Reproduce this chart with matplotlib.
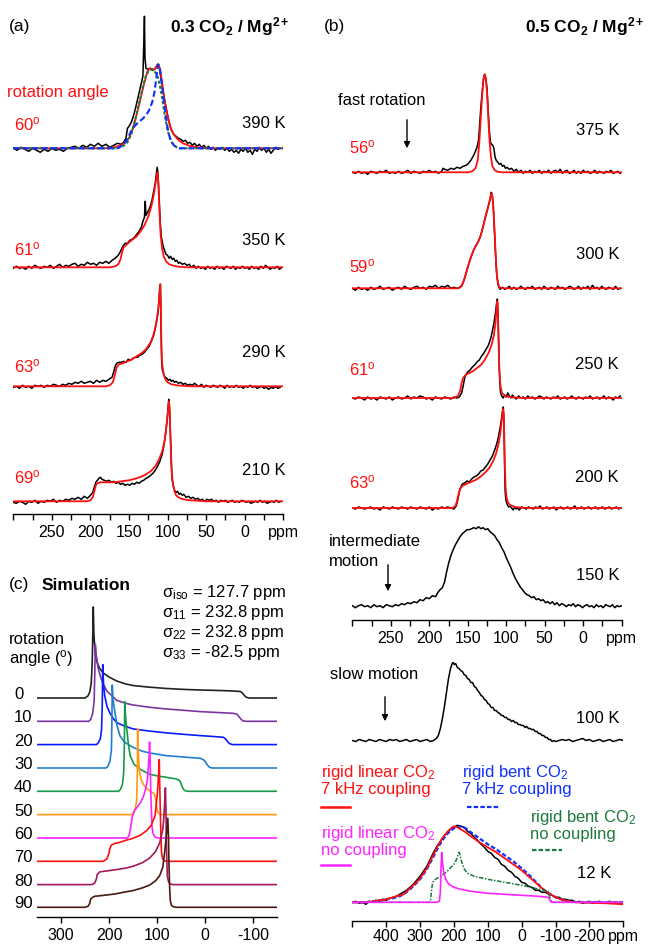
import matplotlib
matplotlib.use('Agg')
import matplotlib.pyplot as plt
from matplotlib.lines import Line2D

plt.rcParams['font.family'] = ['Liberation Sans', 'DejaVu Sans']
plt.rcParams['mathtext.fontset'] = 'custom'
plt.rcParams['mathtext.rm'] = 'Liberation Sans'
plt.rcParams['mathtext.it'] = 'Liberation Sans:italic'
plt.rcParams['mathtext.bf'] = 'Liberation Sans:bold'

W, H = 649, 945

# ---------------- data: (ppm, intensity) ----------------
# panel (a) 0.3 CO2 / Mg2+
a_temps = ['390 K', '350 K', '290 K', '210 K']
a_angles = ['60', '61', '63', '69']

a390_exp = [(300,0),(295,-2),(290,1),(285,-1),(280,-3),(275,0),(270,-2),(265,-4),(260,-1),(255,-3),(250,0),(245,-2),
            (240,-1),(235,-3),(230,0),(225,1),(220,2),(215,0),(210,3),(205,1),(200,4),(195,2),(190,5),(185,2),(180,4),
            (175,1),(170,3),(165,5),(160,4),(157,6),(154,10),(152,20),(150,22),(147,26),(144,33),(141,42),(138,52),
            (135,62),(132,72),(131,100),(130,132),(129.3,90),(128,80),(125,79),(122,80),(119,78),(116,80),(113,84),
            (111,82),(109,72),(106,57),(103,45),(100,33),(97,23),(95,18),(92,14),(89,12),(86,10),(83,9),(80,7),(77,8),
            (74,5),(71,6),(68,3),(65,5),(62,2),(59,4),(56,1),(53,3),(50,0),(47,2),(44,-1),(41,1),(38,-2),(35,0),(32,-1),
            (29,1),(26,-2),(23,0),(20,-3),(17,-1),(14,-4),(11,-2),(8,-5),(5,-1),(2,-3),(-1,0),(-4,-4),(-7,-2),(-10,-6),
            (-13,-1),(-16,-3),(-19,1),(-22,-2),(-25,0),(-28,-4),(-31,-1),(-34,-5),(-37,-2),(-40,1),(-43,-1),(-46,0)]
a390_fit = [(300,0),(180,0),(170,1),(160,3),(155,6),(150,10),(145,20),(140,34),(135,50),(130,66),(126,77),(123,80),
            (120,79),(117,79),(114,82),(112,84),(110,80),(107,65),(104,48),(100,32),(96,20),(92,14),(88,10),(84,7),
            (80,5),(70,2),(60,1),(50,0),(-50,0)]
a390_green = [(300,0),(165,0),(158,2),(152,6),(147,14),(142,28),(137,45),(132,62),(128,73),(124,78),(120,79),(116,76),
              (112,70),(108,55),(104,35),(100,18),(96,8),(92,3),(88,1),(84,0),(-50,0)]
a390_blue = [(300,0),(165,0),(158,3),(153,8),(148,16),(143,22),(138,26),(133,29),(128,33),(124,38),(120,46),(117,56),
             (115,68),(113,80),(112,84),(110,80),(108,68),(105,48),(102,30),(99,16),(96,8),(92,3),(88,1),(84,0),(-50,0)]

a350_exp = [(300,-1),(296,1),(292,-1),(288,0),(284,-2),(280,1),(276,-1),(272,2),(268,0),(264,-1),(260,1),(256,0),
            (252,2),(248,-1),(244,1),(240,3),(236,0),(232,2),(228,1),(224,3),(220,4),(216,1),(212,3),(208,2),(204,5),
            (200,3),(196,4),(192,2),(188,5),(184,4),(180,6),(176,4),(172,7),(168,9),(164,12),(161,16),(158,21),
            (155,24),(152,24),(149,27),(146,28),(143,30),(140,33),(137,36),(134,40),(132,46),(130,50),(129,66),
            (128,52),(126,55),(124,58),(122,62),(120,68),(118,76),(116,84),(114.5,94),(113.5,100),(112.5,94),
            (111,70),(109.5,45),(108,30),(106,22),(104,17),(102,13),(100,12),(98,9),(96,11),(94,8),(92,9),(90,6),
            (88,7),(86,4),(84,5),(81,3),(78,4),(75,2),(72,3),(69,0),(66,2),(63,-1),(60,1),(57,-1),(54,0),(51,-2),
            (48,1),(45,-1),(42,0),(39,-2),(36,1),(33,-1),(30,0),(27,-2),(24,1),(21,0),(18,-1),(15,1),(12,-2),(9,0),
            (6,-1),(3,1),(0,-1),(-3,0),(-6,-2),(-9,1),(-12,-1),(-15,0),(-18,-2),(-21,1),(-24,-1),(-27,2),(-30,0),
            (-33,-2),(-36,0),(-39,-1),(-42,1),(-45,-2),(-48,0)]
a350_fit = [(300,0),(175,0),(168,1),(164,3),(161,8),(159,15),(157,20),(154,22),(150,25),(145,28),(140,31),(135,36),
            (130,42),(125,51),(121,61),(118,72),(116,82),(114,92),(113,95),(112,85),(110.5,55),(109,32),(107,18),
            (105,11),(102,6),(98,3),(92,1.5),(85,0.5),(75,0),(-50,0)]

a290_exp = [(300,-1),(296,0),(292,-2),(288,1),(284,-1),(280,0),(276,-2),(272,1),(268,0),(264,1),(260,-1),(256,1),
            (252,0),(248,2),(244,1),(240,0),(236,2),(232,1),(228,3),(224,2),(220,4),(216,3),(212,5),(208,3),(204,4),
            (200,5),(196,3),(192,6),(188,4),(184,6),(180,5),(176,7),(172,9),(170,14),(168,20),(166,23),(163,24),
            (160,24),(157,25),(154,24),(151,27),(148,26),(145,28),(142,29),(139,29),(136,31),(133,32),(130,34),
            (127,37),(124,40),(121,45),(118,51),(116,58),(114,66),(112,76),(111,88),(110,100),(109.3,102),(108.5,60),
            (107.8,28),(107,17),(105,12),(103,9),(101,8),(99,6),(97,7),(95,5),(93,6),(91,4),(89,5),(86,3),(83,4),
            (80,2),(77,3),(74,1),(71,2),(68,1),(65,3),(62,1),(59,0),(56,2),(53,-1),(50,1),(47,0),(44,-1),(41,1),
            (38,0),(35,-1),(32,1),(29,0),(26,-2),(23,1),(20,-1),(17,0),(14,-1),(11,1),(8,-1),(5,0),(2,-2),(-1,0),
            (-4,-1),(-7,1),(-10,-1),(-13,0),(-16,-2),(-19,-1),(-22,0),(-25,-2),(-28,-1),(-31,-3),(-34,-1),(-37,-2),
            (-40,0),(-43,-2),(-46,-1)]
a290_fit = [(300,0),(180,0),(175,1),(171,4),(168,12),(166,19),(163,22),(158,23),(152,25),(146,27),(140,30),(134,33),
            (128,37),(122,44),(118,52),(115,62),(113,72),(111,86),(110,98),(109.5,102),(108.7,80),(108,40),(107,22),
            (105,12),(103,7),(100,4),(95,2),(88,1),(80,0.5),(70,0),(-50,0)]

a210_exp = [(300,-1),(296,-2),(292,0),(288,-1),(284,-3),(280,0),(276,-1),(272,1),(268,-2),(264,0),(260,-1),(256,1),
            (252,0),(248,2),(244,-1),(240,1),(236,0),(232,2),(228,1),(224,3),(220,2),(216,4),(212,2),(208,5),(204,3),
            (200,6),(197,9),(195,14),(193,19),(191,21),(189,23),(187,24),(185,22),(182,21),(179,20),(176,21),
            (173,19),(170,20),(167,18),(164,19),(161,17),(158,18),(155,16),(152,17),(149,16),(146,18),(143,17),
            (140,19),(137,18),(134,20),(131,21),(128,23),(125,24),(122,26),(119,28),(116,31),(113,35),(110,40),
            (107,47),(105,55),(103,65),(101,78),(99.5,92),(98.5,102),(97.5,95),(96.5,72),(95.5,45),(94.5,25),(93,16),
            (91,11),(89,9),(87,10),(85,7),(83,8),(81,6),(79,7),(76,4),(73,5),(70,3),(67,4),(64,2),(61,3),(58,1),
            (55,2),(52,0),(49,2),(46,1),(43,2),(40,0),(37,1),(34,-1),(31,1),(28,0),(25,1),(22,-1),(19,0),(16,1),
            (13,-1),(10,0),(7,-1),(4,1),(1,0),(-2,-1),(-5,0),(-8,-2),(-11,-1),(-14,0),(-17,-1),(-20,1),(-23,-1),
            (-26,0),(-29,-2),(-32,-1),(-35,0),(-38,-1),(-41,1),(-44,-1),(-47,0)]
a210_fit = [(300,0),(205,0),(200,1),(197,4),(195,10),(193,16),(191,18),(187,19),(180,19),(170,19),(160,20),(150,21),
            (140,23),(130,26),(122,30),(116,35),(111,42),(107,50),(104,60),(102,72),(100,86),(99,96),(98.3,100),
            (97.5,92),(96.5,70),(95.5,45),(94.5,28),(93,17),(91,10),(89,6),(86,4),(82,2.5),(76,1.5),(70,1),(60,0.5),
            (50,0),(-50,0)]

# panel (b) 0.5 CO2 / Mg2+
b_temps = ['375 K', '300 K', '250 K', '200 K', '150 K']
b_angles = ['56', '59', '61', '63']

b375_exp = [(300,0),(296,-1),(292,1),(288,-1),(284,0),(280,-2),(276,1),(272,0),(268,-1),(264,1),(260,0),(256,2),
            (252,-1),(248,0),(244,-1),(240,1),(236,-1),(232,0),(228,2),(224,-1),(220,1),(216,0),(212,-1),(208,1),
            (204,0),(200,2),(196,0),(192,1),(188,-1),(184,1),(182,4),(180,3),(176,2),(172,4),(168,3),(164,5),(160,4),
            (156,6),(152,7),(149,9),(146,12),(143,16),(140,21),(138,25),(136,32),(134.5,48),(133,65),(131,82),
            (129.5,93),(128,98),(126.5,94),(125,84),(123.5,62),(122,42),(120.5,30),(119,28),(117.5,27),(116,24),
            (114.5,15),(113,12),(111,10),(109,8),(107,9),(105,6),(103,7),(101,4),(99,5),(96,3),(93,4),(90,1),(87,3),
            (84,0),(81,2),(78,-1),(75,1),(72,0),(69,2),(66,-1),(63,1),(60,0),(57,2),(54,-1),(51,1),(48,0),(45,2),
            (42,-1),(39,1),(36,2),(33,0),(30,3),(27,-1),(24,1),(21,2),(18,-1),(15,0),(12,2),(9,-1),(6,1),(3,-1),
            (0,2),(-3,0),(-6,1),(-9,-1),(-12,0),(-15,2),(-18,-1),(-21,1),(-24,0),(-27,-1),(-30,1),(-33,0),(-36,2),
            (-39,-1),(-42,0),(-45,1),(-48,-1)]
b375_fit = [(300,0),(150,0),(144,1),(140,4),(137,12),(135,30),(133,55),(131,80),(129.5,94),(128,98),(126.5,93),
            (125,80),(123.5,58),(122,35),(120,16),(118,6),(115,2),(111,0.5),(105,0),(-50,0)]

b300_exp = [(300,0),(296,-2),(292,1),(288,-1),(284,0),(280,-2),(276,1),(272,-1),(268,0),(264,2),(260,-1),(256,0),
            (252,1),(248,-2),(244,0),(240,1),(236,-1),(232,2),(228,0),(224,-1),(220,1),(216,2),(212,0),(208,1),
            (204,-1),(200,2),(196,1),(192,3),(188,0),(184,2),(180,1),(176,3),(172,0),(168,1),(164,0),(160,1),(157,4),
            (154,10),(151,18),(148,26),(145,33),(142,39),(139,43),(136,47),(133,53),(130,62),(127,72),(124,80),
            (121,89),(119.5,96),(118.5,94),(117,85),(115.5,60),(114,35),(112.5,15),(111,5),(109.5,1),(108,-1),
            (105,1),(102,-1),(99,0),(96,2),(93,-1),(90,1),(87,-1),(84,0),(81,2),(78,0),(75,-1),(72,1),(69,0),(66,2),
            (63,-1),(60,0),(57,1),(54,-1),(51,2),(48,0),(45,-1),(42,1),(39,0),(36,-1),(33,2),(30,0),(27,1),(24,-1),
            (21,0),(18,2),(15,1),(12,-1),(9,0),(6,2),(3,-1),(0,1),(-3,0),(-6,2),(-9,-1),(-12,3),(-15,0),(-18,1),
            (-21,-1),(-24,2),(-27,0),(-30,-1),(-33,1),(-36,0),(-39,-1),(-42,2),(-45,-1),(-48,0)]
b300_fit = [(300,0),(162,0),(158,2),(155,8),(152,16),(149,24),(146,31),(143,37),(140,42),(137,46),(134,51),(131,59),
            (128,68),(125,77),(122,86),(120,93),(119,95),(118,92),(116.5,78),(115,55),(113.5,30),(112,12),(110,3),
            (108,0.5),(104,0),(-50,0)]

b250_exp = [(300,0),(296,-1),(292,1),(288,0),(284,-2),(280,1),(276,-1),(272,0),(268,-2),(264,1),(260,0),(256,-1),
            (252,1),(248,-2),(244,0),(240,1),(236,-1),(232,0),(228,2),(224,-1),(220,1),(216,0),(212,2),(208,1),
            (204,-1),(200,0),(196,-2),(192,1),(188,0),(184,-1),(180,1),(176,0),(172,-1),(168,1),(164,0),(161,1),
            (158,5),(156,12),(154,20),(152,24),(150,26),(147,28),(144,31),(141,33),(138,36),(135,38),(132,42),
            (129,45),(126,49),(123,53),(120,60),(118,67),(116,75),(114,85),(112.5,95),(111.5,99),(110.5,80),
            (109.5,45),(108.5,18),(107.5,6),(106,2),(104,0),(102,3),(100,1),(98,5),(96,2),(94,0),(92,3),(90,1),
            (87,-1),(84,2),(81,0),(78,1),(75,-1),(72,2),(69,0),(66,1),(63,-1),(60,0),(57,2),(54,1),(51,-1),(48,1),
            (45,0),(42,-1),(39,1),(36,0),(33,2),(30,-1),(27,0),(24,1),(21,-1),(18,0),(15,2),(12,0),(9,-1),(6,1),
            (3,0),(0,-1),(-3,1),(-6,0),(-9,2),(-12,-1),(-15,0),(-18,1),(-21,-1),(-24,0),(-27,2),(-30,-1),(-33,1),
            (-36,0),(-39,-2),(-42,1),(-45,0),(-48,2)]
b250_fit = [(300,0),(168,0),(163,2),(160,7),(158,15),(156,20),(153,23),(148,25),(143,27),(138,30),(133,33),(128,38),
            (123,45),(119,53),(116,63),(114,75),(112.5,90),(111.7,97),(110.8,85),(110,55),(109,28),(107.5,12),
            (105.5,5),(102,2),(96,1),(88,0.5),(80,0),(-50,0)]

b200_exp = [(300,0),(296,-1),(292,1),(288,0),(284,-1),(280,0),(276,1),(272,-1),(268,0),(264,-2),(260,1),(256,0),
            (252,-1),(248,1),(244,0),(240,-1),(236,1),(232,0),(228,-1),(224,1),(220,0),(216,-1),(212,1),(208,0),
            (204,-1),(200,1),(196,-2),(192,0),(188,-1),(184,1),(180,0),(176,1),(172,0),(168,-1),(165,2),(163,8),
            (161,16),(159,21),(157,24),(154,25),(151,27),(148,26),(145,29),(142,31),(139,32),(136,34),(133,37),
            (130,38),(127,41),(124,44),(121,48),(118,52),(115,58),(112,65),(110,72),(108,80),(106,90),(104.5,99),
            (103.8,101),(103,85),(102.2,45),(101.5,18),(100.5,8),(99,4),(97,1),(95,2),(93,0),(91,-2),(89,1),(87,-1),
            (85,0),(83,-2),(80,1),(77,0),(74,-1),(71,1),(68,0),(65,-1),(62,1),(59,0),(56,2),(53,-1),(50,0),(47,1),
            (44,-1),(41,0),(38,1),(35,-2),(32,0),(29,1),(26,-1),(23,0),(20,1),(17,-1),(14,0),(11,2),(8,-1),(5,0),
            (2,1),(-1,-1),(-4,0),(-7,1),(-10,-1),(-13,0),(-16,1),(-19,-1),(-22,0),(-25,1),(-28,-1),(-31,0),(-34,1),
            (-37,-1),(-40,0),(-43,1),(-46,-1),(-49,0)]
b200_fit = [(300,0),(170,0),(166,2),(164,7),(162,14),(160,19),(157,22),(152,24),(146,26),(140,28),(134,31),(128,35),
            (122,40),(117,47),(113,55),(110,64),(107.5,76),(105.5,90),(104.2,99),(103.3,94),(102.5,70),(101.7,40),
            (100.8,20),(99.5,10),(97.5,5),(94,2.5),(88,1),(80,0.3),(70,0),(-50,0)]

b150_exp = [(300,0),(296,-2),(292,0),(288,1),(284,-1),(280,0),(276,-2),(272,1),(268,-1),(264,0),(260,-2),(256,1),
            (252,0),(248,-1),(244,1),(240,0),(236,2),(232,1),(228,3),(224,2),(220,4),(216,3),(212,6),(208,5),(204,8),
            (200,7),(196,10),(192,9),(189,13),(186,16),(183,18),(180,24),(178,32),(175,42),(172,50),(169,56),
            (166,61),(163,65),(160,69),(157,72),(154,74),(151,76),(148,76),(145,77),(142,78),(139,77),(136,79),
            (133,77),(130,78),(127,76),(124,77),(121,74),(118,72),(115,70),(112,66),(109,63),(106,58),(103,54),
            (100,48),(97,43),(94,38),(91,32),(88,27),(85,23),(82,19),(79,16),(76,13),(73,11),(70,10),(67,8),(64,9),
            (61,6),(58,7),(55,5),(52,6),(49,3),(46,4),(43,2),(40,4),(37,1),(34,3),(31,0),(28,2),(25,1),(22,-1),
            (19,1),(16,0),(13,2),(10,-1),(7,1),(4,0),(1,-2),(-2,0),(-5,1),(-8,-1),(-11,0),(-14,-2),(-17,1),(-20,-1),
            (-23,0),(-26,-2),(-29,1),(-32,0),(-35,-1),(-38,1),(-41,-2),(-44,0),(-47,-1),(-50,0)]

b100_exp = [(500,0),(490,-1),(480,1),(470,0),(460,-1),(450,1),(440,0),(430,-1),(420,1),(410,0),(400,-1),(390,1),
            (380,0),(370,1),(360,-1),(350,0),(340,1),(330,-1),(320,0),(310,1),(300,-1),(290,0),(280,1),(270,-1),
            (260,0),(252,2),(246,5),(240,12),(234,22),(228,34),(222,48),(216,62),(210,72),(205,77),(202,78),(199,76),
            (195,77),(190,73),(185,72),(180,70),(175,69),(170,66),(165,65),(160,62),(155,61),(150,58),(145,58),
            (140,54),(135,53),(130,50),(125,48),(120,45),(115,44),(110,41),(105,40),(100,37),(95,36),(90,33),(85,33),
            (80,30),(75,30),(70,28),(65,27),(60,25),(55,25),(50,23),(45,23),(40,21),(35,21),(30,19),(25,20),(20,18),
            (15,18),(10,16),(5,16),(0,15),(-5,15),(-10,13),(-15,14),(-20,12),(-25,12),(-30,11),(-35,11),(-40,9),
            (-45,9),(-50,7),(-55,7),(-60,5),(-65,5),(-70,3),(-75,3),(-80,1),(-85,1),(-90,-1),(-95,0),(-100,-1),
            (-110,0),(-120,1),(-130,0),(-140,1),(-150,-1),(-160,0),(-170,1),(-180,2),(-190,0),(-200,1),(-210,-1),
            (-220,0),(-230,1),(-240,-1),(-250,0),(-260,1),(-270,-1),(-280,0),(-290,1),(-300,0)]

b12_exp = [(500,0),(490,1),(480,-1),(470,0),(460,-2),(450,1),(440,0),(430,2),(420,1),(410,3),(400,2),(390,4),
           (380,5),(370,6),(360,8),(350,10),(340,12),(330,15),(320,18),(310,22),(300,26),(290,31),(280,36),(270,43),
           (260,50),(250,56),(240,61),(230,66),(220,70),(210,73),(200,75),(190,77),(180,76),(170,75),(160,71),
           (150,69),(140,65),(130,62),(120,58),(110,55),(100,51),(90,49),(80,45),(70,43),(60,38),(50,36),(40,32),
           (30,30),(20,26),(10,24),(0,20),(-10,19),(-20,16),(-30,15),(-40,12),(-50,12),(-60,10),(-70,10),(-80,8),
           (-90,7),(-100,5),(-110,5),(-120,3),(-130,3),(-140,2),(-150,2),(-160,0),(-170,1),(-180,-1),(-190,0),
           (-200,1),(-210,-1),(-220,0),(-230,1),(-240,-1),(-250,0),(-260,1),(-270,-1),(-280,0),(-290,-1),(-300,0)]
b12_linear7k = [(500,0),(460,0),(440,1),(420,2),(400,3),(380,5),(360,7),(348,8),(330,14),(310,20),(300,24),(280,34),
                (260,48),(245,58),(230,66),(215,72),(205,75),(200,76),(190,75),(180,73),(165,70),(150,66),(125,60),
                (100,55),(75,50),(50,44),(25,38),(0,32),(-20,26),(-40,20),(-60,14),(-80,9),(-100,5),(-120,2.5),
                (-140,1),(-160,0),(-200,-0.5),(-250,-1),(-300,-2)]
b12_bent7k = [(500,0),(460,0),(440,1),(420,2),(400,3),(380,4),(360,6),(340,10),(320,16),(300,23),(280,33),(260,46),
              (245,56),(230,64),(215,70),(200,74),(190,75),(180,76),(165,74),(150,70),(125,64),(100,58),(75,53),
              (50,47),(25,41),(0,34),(-20,28),(-40,21),(-60,14),(-80,9),(-100,5),(-120,2.5),(-140,1),(-160,0.3),
              (-300,0)]
b12_linear0 = [(500,0),(250,0),(243,1),(240,10),(238,35),(236,50),(234,40),(230,30),(224,23),(215,18),(200,15),
               (180,13),(150,11),(100,9),(50,8),(0,7),(-50,6),(-78,5),(-82,3),(-86,0.5),(-90,0),(-300,0)]
b12_bent0 = [(500,0),(272,0),(269,2),(266,12),(263,20),(255,23),(239,26),(220,31),(200,38),(192,43),(187,49),
             (184,50),(180,44),(175,38),(169,33),(160,29),(140,26),(100,23),(50,20),(0,17),(-40,14),(-78,11),
             (-82,6),(-86,2),(-90,0),(-300,0)]

# panel (c) simulated rotation patterns
c_angles = ['0', '10', '20', '30', '40', '50', '60', '70', '80', '90']
c_sigma = [r'σ$_\mathregular{iso}$ = 127.7 ppm', r'σ$_\mathregular{11}$ = 232.8 ppm',
           r'σ$_\mathregular{22}$ = 232.8 ppm', r'σ$_\mathregular{33}$ = -82.5 ppm']
c00 = [(350,0),(250,0),(244,2),(240,6),(237,15),(235,35),(233.5,70),(232.8,91),(231.5,65),(229,45),(225,36),(220,30),
       (212,25),(200,21),(184,17),(165,14),(150,12.5),(120,11),(80,9.5),(40,8.5),(10,8),(-30,7.5),(-59,7),(-74,6.5),
       (-78,5),(-82,2.5),(-86,0.7),(-92,0),(-150,0)]
c10 = [(350,0),(242,0),(238,2),(234,8),(231,20),(229.5,50),(228.5,77),(226.5,66),(223,54),(218,45),(212,37),
       (204,30),(195,26),(184,21),(165,18),(150,16.3),(115,14),(80,12.3),(45,11),(10,9.7),(-25,8.8),(-59,8),
       (-67,7),(-71,4.5),(-76,1.5),(-80,0.3),(-86,0),(-150,0)]
c20 = [(350,0),(226,0),(222,2),(218,6),(215.5,15),(214,40),(213,80),(211.5,62),(209,49),(204,38),(198.6,32),
       (191,26),(184,22),(170,19),(150,15.7),(115,13.5),(80,11.7),(45,10.3),(10,9),(-20,8),(-38.6,7.3),(-42,6),
       (-45.6,4),(-49,1.8),(-52.5,0.7),(-58,0),(-150,0)]
c30 = [(350,0),(206,0),(202,2),(198,7),(195,18),(194,45),(193.2,83),(191.5,68),(187.5,55),(183,42),(177,32),
       (168,26),(150,20.7),(132,17),(115,15),(80,12.3),(45,11),(10,9.7),(3.5,8.3),(0,7),(-3.5,4),(-7,1.8),
       (-10,0.7),(-15,0),(-150,0)]
c40 = [(350,0),(180,0),(176,2),(172,7),(169.5,18),(168,45),(167.2,89.7),(165.5,75),(163,62),(159.5,47),(156,35.7),
       (148,27),(135,22),(115,17),(95,15),(80,14),(59.7,12.3),(52.8,10.7),(50,8),(47.2,4),(44.5,1.8),(42,0.7),
       (37,0),(-150,0)]
c50 = [(350,0),(152,0),(148,2),(145,6),(142.5,14),(141,40),(140.3,85.7),(139,62),(137,45),(133,35),(128,30),
       (121.5,26),(113,23),(106,21),(103,16),(101,8),(99,3),(96,1),(92,0),(-150,0)]
c60 = [(350,0),(162,0),(158.3,2.3),(155,10),(152,20),(148,27),(141,31),(134,35.7),(128,42),(123.6,49),(120,58),
       (118.8,65.7),(116.5,82),(115.5,96),(114.5,80),(113,45),(112,32),(110.5,12),(108,4),(104,1),(99,0),(-150,0)]
c70 = [(350,0),(212,0),(204.6,2.3),(200,8),(198,13),(195,16.3),(187,18),(177,19),(165,21),(150,23),(135,26),
       (121.5,30.7),(112,36),(104,45.7),(99,69),(96.5,90),(95.3,101.7),(94,70),(92.7,42),(91.5,20),(90.6,9),
       (88.5,3),(85.8,0.7),(80,0),(-150,0)]
c80 = [(350,0),(235,0),(229.6,1.7),(226,6),(224.8,10),(219.3,12.7),(200,14),(184.7,15),(165,16.5),(150,18.3),
       (130,22),(115,26.7),(103,33),(94.4,41.7),(88,55),(86,65),(84,82),(82.5,96.7),(81.3,75),(80.5,45),(79.3,20),
       (78.4,8.3),(76,3),(73.6,1),(68,0),(-150,0)]
c90 = [(350,0),(250,0),(243.7,1),(240,4),(238.2,8.3),(234,10),(229.9,11),(210,12),(188,13.3),(170,15),(150,16.7),
       (130,19.5),(115,22.3),(103,26.5),(94.4,31.7),(88,40),(84,55),(80.5,72),(77.5,89),(76,70),(75,41.7),
       (73.5,18),(72.3,6.7),(70,2),(66.7,0.7),(60,0),(-150,0)]
c_curves = [c00, c10, c20, c30, c40, c50, c60, c70, c80, c90]

# ---------------- layout helpers (pixel positions of the reference) ----------------
fig = plt.figure(figsize=(W / 100, H / 100), dpi=100)


def make_axes(x0, x1, ytop, ybot, pad=3, length=4.5):
    ax = fig.add_axes([x0 / W, 1 - ybot / H, (x1 - x0) / W, (ybot - ytop) / H])
    ax.set_facecolor('none')
    ax.set_ylim(0, ybot - ytop)
    for s in ['top', 'left', 'right']:
        ax.spines[s].set_visible(False)
    ax.spines['bottom'].set_linewidth(1.0)
    ax.set_yticks([])
    ax.tick_params(axis='x', which='both', direction='out', length=length, width=1.0,
                   labelsize=11.5, pad=pad)
    return ax


def draw(ax, pts, ybot, base_y, **kw):
    off = ybot - base_y
    ax.plot([p[0] for p in pts], [off + p[1] for p in pts], **kw)


def txt(x, y, s, **kw):
    kw.setdefault('fontsize', 12)
    kw.setdefault('va', 'baseline')
    fig.text(x / W, 1 - y / H, s, **kw)


def arrow(x, y0, y1):
    fig.add_artist(matplotlib.patches.FancyArrowPatch(
        (x / W, 1 - y0 / H), (x / W, 1 - y1 / H), transform=fig.transFigure,
        arrowstyle='-|>', mutation_scale=9, lw=1.0, color='black'))


def seg(x0, x1, y, **kw):
    fig.add_artist(Line2D([x0 / W, x1 / W], [1 - y / H, 1 - y / H], transform=fig.transFigure, **kw))


deg = r'$^\mathregular{o}$'
blk = dict(color='black', lw=1.1)
red = dict(color='#ff1010', lw=1.3)

# ---------------- panel (a) ----------------
ya = 515
axa = make_axes(13.3, 283.3, 0, ya)
axa.set_xlim(300, -50)
axa.set_xticks([300, 250, 200, 150, 100, 50, 0, -50])
axa.set_xticklabels(['', '250', '200', '150', '100', '50', '0', 'ppm'])
axa.set_xticks([275, 225, 175, 125, 75, 25, -25], minor=True)

a_base = [149.3, 268.3, 387.3, 502.3]
a_exp = [a390_exp, a350_exp, a290_exp, a210_exp]
a_fit = [a390_fit, a350_fit, a290_fit, a210_fit]
for i in range(4):
    draw(axa, a_exp[i], ya, a_base[i], **blk)
    draw(axa, a_fit[i], ya, a_base[i], **red)
draw(axa, a390_green, ya, a_base[0], color='#1b7a3a', lw=1.5, ls=(0, (1.5, 1)))
draw(axa, a390_blue, ya, a_base[0], color='#1030ff', lw=1.5, ls=(0, (3, 1.5)))

txt(9, 31, '(a)', fontsize=12.5)
txt(290, 32, r'0.3 CO$_\mathbf{2}$ / Mg$^\mathbf{2+}$', fontsize=12.5, fontweight='bold', ha='right')
txt(7, 97, 'rotation angle', color='#ff1010')
a_lab_y = [130, 255, 372, 483]
a_temp_y = [128, 245, 357, 475]
for i in range(4):
    txt(14, a_lab_y[i], a_angles[i] + deg, color='#ff1010')
    txt(286, a_temp_y[i], a_temps[i], ha='right')

# ---------------- panel (b) top ----------------
yb = 620.7
axb = make_axes(352.3, 621.7, 0, yb)
axb.set_xlim(300, -50)
axb.set_xticks([300, 250, 200, 150, 100, 50, 0, -50])
axb.set_xticklabels(['', '250', '200', '150', '100', '50', '0', 'ppm'])
axb.set_xticks([275, 225, 175, 125, 75, 25, -25], minor=True)

b_base = [173.3, 289.3, 399, 509, 606.7]
b_exp = [b375_exp, b300_exp, b250_exp, b200_exp, b150_exp]
b_fit = [b375_fit, b300_fit, b250_fit, b200_fit]
for i in range(5):
    draw(axb, b_exp[i], yb, b_base[i], **blk)
for i in range(4):
    draw(axb, b_fit[i], yb, b_base[i], **red)

txt(324, 31, '(b)', fontsize=12.5)
txt(645, 32, r'0.5 CO$_\mathbf{2}$ / Mg$^\mathbf{2+}$', fontsize=12.5, fontweight='bold', ha='right')
txt(338, 105, 'fast rotation')
arrow(407, 118, 152)
b_lab_y = [153, 272, 375, 488]
b_temp_y = [135, 259, 369, 482, 580]
for i in range(4):
    txt(349, b_lab_y[i], b_angles[i] + deg, color='#ff1010')
for i in range(5):
    txt(619, b_temp_y[i], b_temps[i], ha='right')
txt(329, 546, 'intermediate')
txt(329, 566, 'motion')
arrow(388, 563, 595)

# ---------------- panel (b) bottom ----------------
yb2 = 922.3
axb2 = make_axes(352.3, 623.3, 640, yb2, pad=1.0, length=4)
axb2.set_xlim(500, -300)
axb2.set_xticks([500, 400, 300, 200, 100, 0, -100, -200, -300])
axb2.set_xticklabels(['', '400', '300', '200', '100', '0', '-100', '-200', 'ppm'])
draw(axb2, b100_exp, yb2, 741.5, **blk)
draw(axb2, b12_exp, yb2, 903.3, **blk)
draw(axb2, b12_bent7k, yb2, 903.3, color='#1030ff', lw=1.6, ls=(0, (2, 1)))
draw(axb2, b12_linear7k, yb2, 903.3, **red)
draw(axb2, b12_bent0, yb2, 903.3, color='#1b7a3a', lw=1.1, ls=(0, (3, 1, 1, 1)))
draw(axb2, b12_linear0, yb2, 903.3, color='#ff22ff', lw=1.2)

txt(330, 679, 'slow motion')
arrow(385, 695, 725)
txt(619, 723, '100 K', ha='right')
txt(577, 878, '12 K')
txt(321, 777, r'rigid linear CO$_\mathregular{2}$', color='#ff1010')
txt(321, 794, '7 kHz coupling', color='#ff1010')
seg(321, 350, 808, color='#ff1010', lw=1.8)
txt(462, 777, r'rigid bent CO$_\mathregular{2}$', color='#1030ff')
txt(462, 794, '7 kHz coupling', color='#1030ff')
seg(467, 499, 808, color='#1030ff', lw=1.6, ls=(0, (2, 1)))
txt(530, 822, r'rigid bent CO$_\mathregular{2}$', color='#1b7a3a')
txt(530, 839, 'no coupling', color='#1b7a3a')
seg(532, 562, 851, color='#1b7a3a', lw=1.6, ls=(0, (2, 1)))
txt(321, 838, r'rigid linear CO$_\mathregular{2}$', color='#ff22ff')
txt(321, 855, 'no coupling', color='#ff22ff')
seg(321, 350, 866, color='#ff22ff', lw=1.8)

# ---------------- panel (c) ----------------
yc = 917.7
axc = make_axes(37, 277, 570, yc)
axc.set_xlim(350, -150)
axc.set_xticks([300, 200, 100, 0, -100])
axc.set_xticklabels(['300', '200', '100', '0', '-100'])
c_base = [699, 722.3, 745.6, 769, 792.3, 815.6, 839, 862.3, 885.6, 908.3]
c_colors = ['#222222', '#7a35a0', '#0a1cff', '#1f7fcf', '#17994a', '#ff9a10', '#ff20ff', '#ff1010',
            '#a3195b', '#4a1a10']
for i in range(10):
    draw(axc, c_curves[i], yc, c_base[i], color=c_colors[i], lw=1.2)
    txt(14, c_base[i], c_angles[i])

txt(9, 589, '(c)', fontsize=12.5)
txt(42, 590, 'Simulation', fontsize=12.5, fontweight='bold')
txt(9, 644, 'rotation')
txt(9, 663, 'angle (' + deg + ')')
for i, s in enumerate(c_sigma):
    txt(162, 597 + 20 * i, s)

fig.savefig('out.png', dpi=100)
